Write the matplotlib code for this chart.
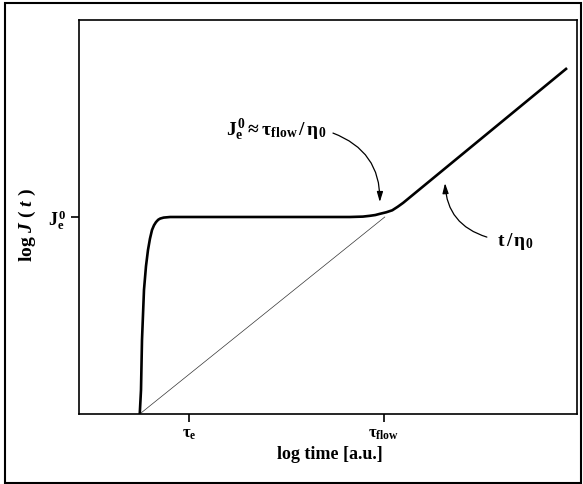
import matplotlib
matplotlib.use("Agg")
import matplotlib.pyplot as plt
from matplotlib.patches import Rectangle

plt.rcParams['font.family'] = ['Liberation Serif', 'DejaVu Serif']
plt.rcParams['font.weight'] = 'bold'
plt.rcParams['mathtext.fontset'] = 'custom'
plt.rcParams['mathtext.rm'] = 'Liberation Serif:bold'
plt.rcParams['mathtext.it'] = 'Liberation Serif:italic:bold'
plt.rcParams['mathtext.bf'] = 'Liberation Serif:bold'

# creep compliance curve (log time, log J)
log_time = [1.22, 1.245, 1.265, 1.305, 1.345, 1.385, 1.425, 1.466, 1.506, 1.546,
            1.59, 1.63, 1.70, 1.83, 2.5, 4.0, 5.44, 5.70, 5.84, 5.95, 6.04,
            6.17, 6.29, 6.40, 6.51, 9.80]
log_J = [0.0, 0.61, 1.88, 3.15, 3.75, 4.16, 4.45, 4.67, 4.79, 4.87,
         4.93, 4.96, 4.985, 5.0, 5.0, 5.0, 5.0, 5.01, 5.03, 5.05, 5.08,
         5.12, 5.17, 5.26, 5.36, 8.78]

# terminal flow asymptote t / eta0
flow_time = [1.22, 6.14]
flow_J = [0.0, 5.0]

tau_e = 2.21
tau_flow = 6.12
Je0 = 5.0

fig = plt.figure(figsize=(5.83, 4.84), dpi=100)
ax = fig.add_axes([79/583, 70/484, 498/583, 394/484])

ax.plot(log_time, log_J, color='black', lw=1.9, solid_capstyle='butt')
ax.plot(flow_time, flow_J, color='#333333', lw=0.5)

ax.set_xlim(0, 10)
ax.set_ylim(0, 10)

ax.set_xticks([tau_e, tau_flow])
ax.set_xticklabels([r'$\mathrm{τ_e}$', r'$\mathrm{τ_{flow}}$'], fontsize=12)
ax.set_yticks([Je0])
ax.set_yticklabels([r'$\mathrm{J_e^{\,0}}$'], fontsize=13)
ax.tick_params(direction='out', length=6, width=1.2, pad=3)

for s in ax.spines.values():
    s.set_linewidth(1.2)

ax.set_xlabel('log time [a.u.]', fontsize=13, fontweight='bold')
ax.xaxis.set_label_coords(0.504, -0.082)
ax.set_ylabel(r'log $J$ ( $t$ )', fontsize=14, fontweight='bold')
ax.yaxis.set_label_coords(-0.082, 0.48)

arr = dict(arrowstyle='-|>,head_length=0.6,head_width=0.18', color='black', lw=0.9,
           shrinkA=0, shrinkB=0)
ax.annotate('', xy=(6.04, 5.38), xytext=(5.10, 7.13),
            arrowprops=dict(arr, connectionstyle='arc3,rad=-0.35'))
ax.annotate('', xy=(7.35, 5.86), xytext=(8.19, 4.49),
            arrowprops=dict(arr, connectionstyle='arc3,rad=-0.35'))

ax.text(3.96, 7.21, r'$\mathrm{J_e^{\,0}\approx τ_{flow}\,/\,η_0}$', fontsize=14,
        ha='center', va='center')
ax.text(8.75, 4.37, r'$\mathrm{t\,/\,η_0}$', fontsize=14, ha='center', va='center')

# outer frame around the whole figure
fig.patches.append(Rectangle((5/583, 1/484), 576/583, 480/484, transform=fig.transFigure,
                             fill=False, edgecolor='black', lw=1.5))

fig.savefig('out.png', dpi=100)
